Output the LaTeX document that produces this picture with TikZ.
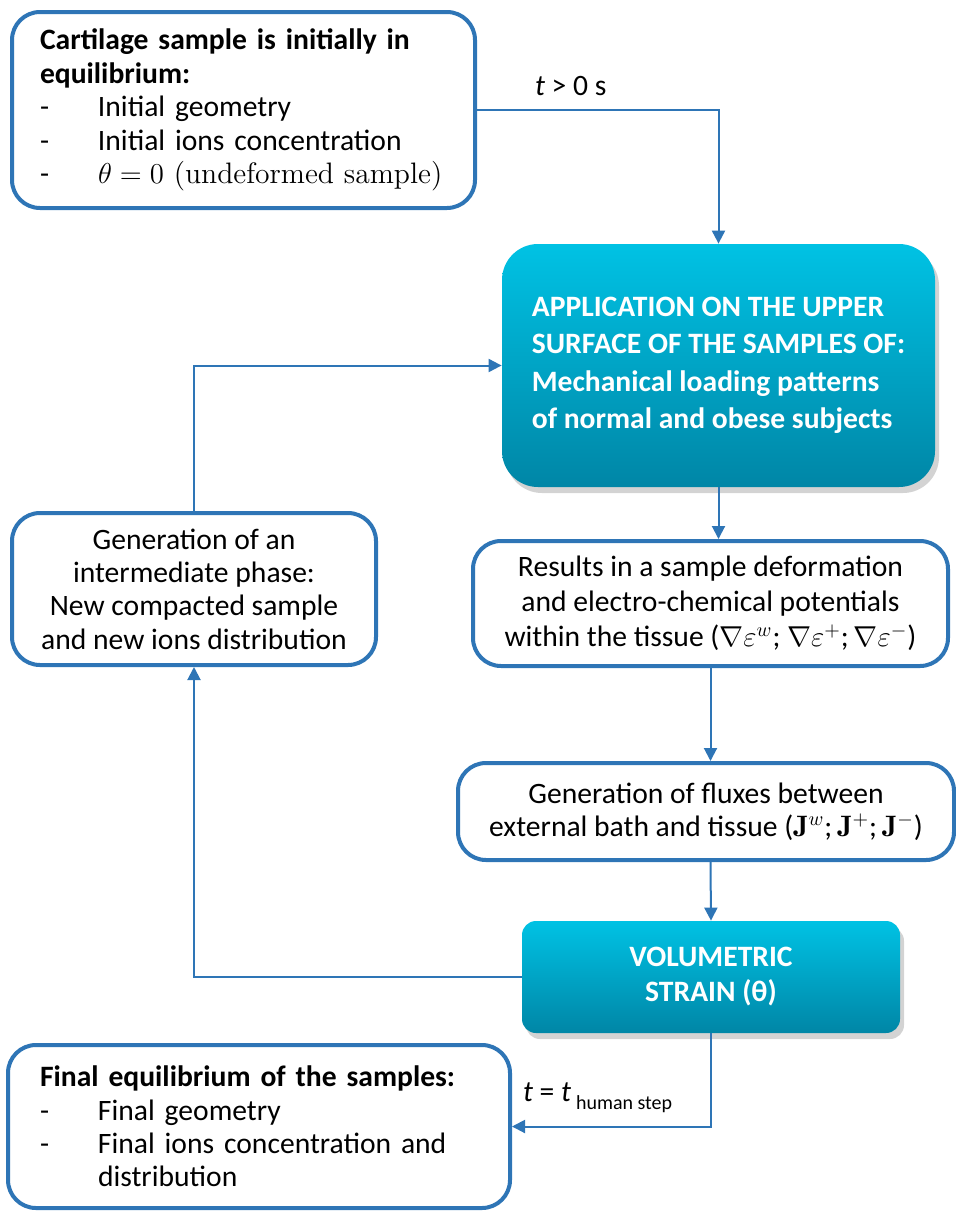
\documentclass[tikz,border=0pt]{standalone}
\usepackage{fontspec}
\setsansfont{Carlito}
\usetikzlibrary{shadows,arrows.meta}
\definecolor{frameblue}{RGB}{46,117,182}
\definecolor{tealtop}{RGB}{0,194,228}
\definecolor{tealbot}{RGB}{0,134,166}

\begin{document}
\begin{tikzpicture}[x=0.5pt,y=-0.5pt,
  every node/.style={font=\sffamily\fontsize{14.8}{16.7}\selectfont},
  plainbox/.style={draw=frameblue,line width=2pt,rounded corners=14pt,fill=white,inner sep=0pt},
  tealbox/.style={rounded corners=18pt,top color=tealtop,bottom color=tealbot,text=white,inner sep=0pt,
    drop shadow={shadow xshift=2pt,shadow yshift=-3pt,opacity=0.35},
    font=\sffamily\bfseries\fontsize{14.8}{18.75}\selectfont},
  flow/.style={draw=frameblue,line width=1pt,-{Triangle[length=6.5pt,width=6.5pt]}}]
  \useasboundingbox (0,0) rectangle (956,1211);
  % boxes
  \node[plainbox,minimum width=231.5pt,minimum height=98pt,inner xsep=14pt,text width=203.5pt,align=left] (init) at (243.5,110)
    {\textbf{Cartilage sample is initially in}\\
     \textbf{equilibrium:}\\
     \makebox[29pt][l]{-}Initial geometry\\
     \makebox[29pt][l]{-}Initial ions concentration\\
     \makebox[29pt][l]{-}$\theta=0$ {\rmfamily(undeformed sample)}};
  \node[tealbox,minimum width=216.5pt,minimum height=121.5pt,align=left] (app) at (718.5,365.5)
    {APPLICATION ON THE UPPER\\
     SURFACE OF THE SAMPLES OF:\\
     Mechanical loading patterns\\
     of normal and obese subjects};
  \node[plainbox,minimum width=237.5pt,minimum height=62.5pt,align=center,
    font=\sffamily\fontsize{14.8}{17.5}\selectfont] (res) at (710.5,603.5)
    {Results in a sample deformation\\
     and electro-chemical potentials\\
     within the tissue ($\nabla\varepsilon^{w}$;\ $\nabla\varepsilon^{+}$;\,$\nabla\varepsilon^{-}$)};
  \node[plainbox,minimum width=182pt,minimum height=76pt,align=center] (gen) at (194,589)
    {Generation of an\\
     intermediate phase:\\
     New compacted sample\\
     and new ions distribution};
  \node[plainbox,minimum width=248pt,minimum height=48.5pt,align=center] (flux) at (706,811.5)
    {Generation of fluxes between\\
     external bath and tissue ($\mathbf{J}^{w}$;\,$\mathbf{J}^{+}$;\,$\mathbf{J}^{-}$)};
  \node[tealbox,rounded corners=7pt,minimum width=189pt,minimum height=56pt,align=center,
    font=\sffamily\bfseries\fontsize{14.8}{17.5}\selectfont] (vol) at (711,977)
    {VOLUMETRIC\\STRAIN (θ)};
  \node[plainbox,minimum width=251pt,minimum height=81.5pt,inner xsep=16pt,text width=219pt,align=left] (fin) at (259,1126.5)
    {\textbf{Final equilibrium of the samples:}\\
     \makebox[29pt][l]{-}Final geometry\\
     \makebox[29pt][l]{-}Final ions concentration and\\
     \makebox[29pt][l]{}distribution};
  % connectors
  \draw[flow] (init.east) -| (app.north);
  \draw[flow] (app.south) -- (app.south |- res.north);
  \draw[flow] (res.south) -- (res.south |- flux.north);
  \draw[flow] (res.south |- flux.south) -- (vol.north);
  \draw[flow] (vol.west) -| (gen.south);
  \draw[flow] (gen.north) |- (app.west);
  \draw[flow] (vol.south) |- (fin.east);
  % labels
  \node[anchor=west] (tstart) at (528,86) {\textit{t} > 0 s};
  \node[anchor=west] (tend) at (516,1098)
    {\textit{t} = \textit{t}\,\raisebox{-4pt}{\fontsize{10}{11}\selectfont human step}};
\end{tikzpicture}
\end{document}
